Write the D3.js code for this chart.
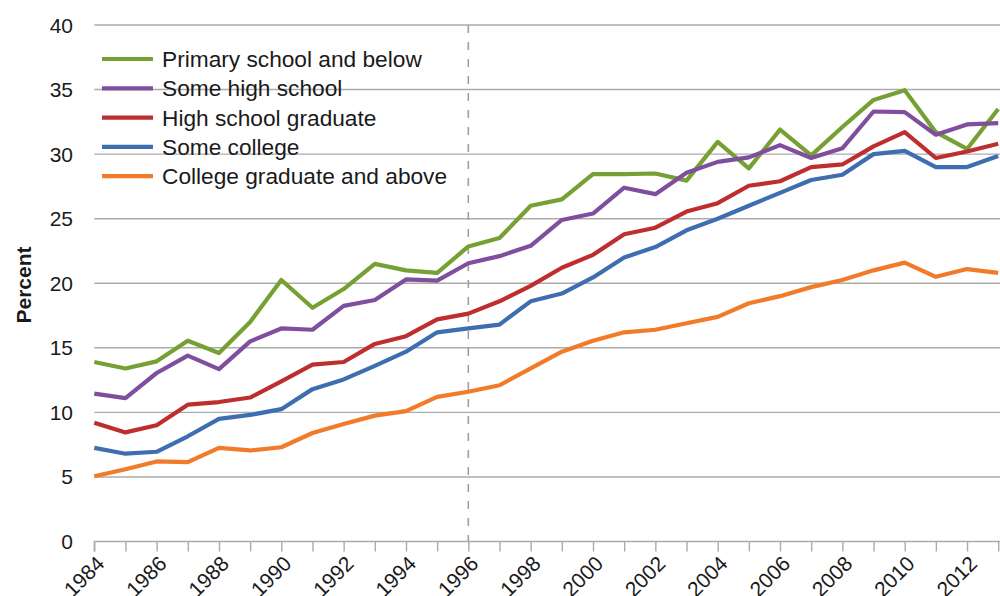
<!DOCTYPE html>
<html>
<head>
<meta charset="utf-8">
<script src="https://cdn.jsdelivr.net/npm/d3@7"></script>
<style>
  html, body { margin: 0; padding: 0; background: #fff; }
  svg { display: block; font-family: "Liberation Sans", Arial, Helvetica, sans-serif; }
</style>
</head>
<body>
<svg id="chart" width="1000" height="596"></svg>
<script>
const years = d3.range(1984, 2014);
const yTicks = [0, 5, 10, 15, 20, 25, 30, 35, 40];
const xTickLabels = [1984, 1986, 1988, 1990, 1992, 1994, 1996, 1998, 2000, 2002, 2004, 2006, 2008, 2010, 2012];
const seriesNames = ["Primary school and below", "Some high school", "High school graduate", "Some college", "College graduate and above"];
const seriesColors = ["#77a034", "#7f4f9e", "#bf2e2e", "#3e6eb0", "#f27b29"];

const primary = [13.9, 13.4, 13.95, 15.55, 14.6, 17.0, 20.25, 18.1, 19.55, 21.5, 21.0, 20.8, 22.85, 23.5, 26.0, 26.5, 28.45, 28.45, 28.5, 27.95, 30.95, 28.9, 31.9, 29.9, 32.1, 34.2, 34.95, 31.7, 30.4, 33.5];
const someHigh = [11.45, 11.1, 13.05, 14.4, 13.35, 15.5, 16.5, 16.4, 18.25, 18.7, 20.3, 20.2, 21.55, 22.1, 22.9, 24.9, 25.4, 27.4, 26.9, 28.55, 29.4, 29.75, 30.7, 29.7, 30.45, 33.3, 33.25, 31.5, 32.3, 32.4];
const highGrad = [9.2, 8.45, 9.0, 10.6, 10.8, 11.15, 12.4, 13.7, 13.9, 15.3, 15.9, 17.2, 17.65, 18.6, 19.8, 21.2, 22.2, 23.8, 24.3, 25.55, 26.2, 27.55, 27.9, 29.0, 29.2, 30.6, 31.7, 29.7, 30.2, 30.8];
const someCollege = [7.25, 6.8, 6.95, 8.15, 9.5, 9.8, 10.25, 11.8, 12.55, 13.6, 14.7, 16.2, 16.5, 16.8, 18.6, 19.2, 20.45, 22.0, 22.8, 24.1, 25.0, 26.0, 27.0, 28.0, 28.4, 30.0, 30.25, 29.0, 29.0, 29.85];
const collegeGrad = [5.05, 5.6, 6.2, 6.15, 7.25, 7.05, 7.3, 8.4, 9.1, 9.75, 10.1, 11.2, 11.6, 12.1, 13.4, 14.7, 15.55, 16.2, 16.4, 16.9, 17.4, 18.45, 19.0, 19.7, 20.25, 21.0, 21.6, 20.5, 21.1, 20.8];
const seriesValues = [primary, someHigh, highGrad, someCollege, collegeGrad];
const markerYear = 1996;

const svg = d3.select("#chart");
const x = d3.scaleLinear().domain([1984, 2013]).range([94.3, 998.2]);
const y = d3.scaleLinear().domain([0, 40]).range([541.5, 25]);

// gridlines
svg.append("g").selectAll("line").data(yTicks.filter(d => d > 0)).join("line")
  .attr("x1", x(1984)).attr("x2", 1000)
  .attr("y1", d => y(d)).attr("y2", d => y(d))
  .attr("stroke", "#ababab").attr("stroke-width", 1.4);

// y tick labels
svg.append("g").selectAll("text").data(yTicks).join("text")
  .attr("x", 73).attr("y", d => y(d)).attr("dy", "0.36em")
  .attr("text-anchor", "end").attr("font-size", 21).attr("fill", "#1a1a1a")
  .text(d => d);

// x axis
const xAxis = d3.axisBottom(x).tickValues(years).tickSize(10).tickFormat("");
const gx = svg.append("g").attr("transform", `translate(0,${y(0)})`).call(xAxis);
gx.select(".domain").attr("stroke", "#ababab").attr("stroke-width", 1.4).attr("d", `M${x(1984)},10V0H1000`);
gx.selectAll(".tick line").attr("stroke", "#ababab").attr("stroke-width", 1.4);

svg.append("g").selectAll("text").data(xTickLabels).join("text")
  .attr("transform", d => `translate(${x(d) + 1},${y(0) + 13}) rotate(-45)`)
  .attr("text-anchor", "end").attr("dy", "0.7em")
  .attr("font-size", 21).attr("fill", "#1a1a1a")
  .text(d => d);

// dashed vertical line
svg.append("line")
  .attr("x1", x(markerYear)).attr("x2", x(markerYear))
  .attr("y1", y(40)).attr("y2", y(0))
  .attr("stroke", "#a0a0a0").attr("stroke-width", 1.6)
  .attr("stroke-dasharray", "8,9");

// lines
const line = d3.line().x((d, i) => x(years[i])).y(d => y(d));
svg.append("g").selectAll("path").data(seriesValues).join("path")
  .attr("d", d => line(d))
  .attr("fill", "none")
  .attr("stroke", (d, i) => seriesColors[i])
  .attr("stroke-width", 4.2)
  .attr("stroke-linejoin", "round");

// y label
svg.append("text")
  .attr("transform", "translate(31,285) rotate(-90)")
  .attr("text-anchor", "middle").attr("font-size", 21).attr("font-weight", "bold")
  .attr("fill", "#1a1a1a").text("Percent");

// legend
const legend = svg.append("g");
const rows = legend.selectAll("g").data(seriesNames).join("g")
  .attr("transform", (d, i) => `translate(0,${59 + i * 29.3})`);
rows.append("line").attr("x1", 102).attr("x2", 153).attr("y1", 0).attr("y2", 0)
  .attr("stroke", (d, i) => seriesColors[i]).attr("stroke-width", 4.2);
rows.append("text").attr("x", 162).attr("y", 0).attr("dy", "0.36em")
  .attr("font-size", 22.7).attr("fill", "#1a1a1a").text(d => d);
</script>
</body>
</html>
